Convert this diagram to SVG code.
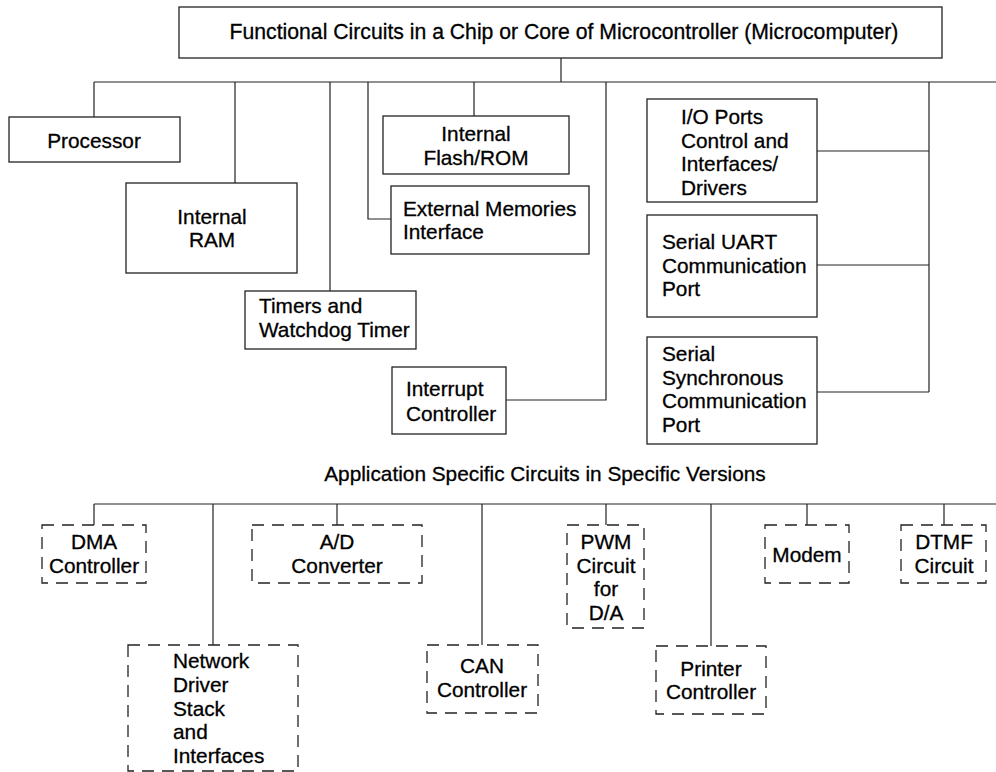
<svg xmlns="http://www.w3.org/2000/svg" width="996" height="772" viewBox="0 0 996 772">
<style>
text{font-family:"Liberation Sans",Arial,sans-serif;font-size:20.8px;fill:#000;stroke:#000;stroke-width:0.3}
.c{text-anchor:middle}
.big{font-size:21.2px}
.box{fill:none;stroke:#222;stroke-width:1.3}
.dbox{fill:none;stroke:#222;stroke-width:1.3;stroke-dasharray:12 8}
.ln{fill:none;stroke:#222;stroke-width:1.2}
</style>
<rect width="996" height="772" fill="#fff"/>
<g id="connectors">
<path class="ln" d="M561,58V82M94,82H996M94,82V117M235,82V183M330,82V291M368,82V219H391M474,82V116M606,82V400H506M929,82V392M817,151H929M817,265H929M817,392H929"/>
<path class="ln" d="M94,504H996M94,504V525M213,504V645M337,504V525M482,504V645M606,504V525M711,504V646M807,504V525M944,504V525"/>
</g>
<g id="top"><rect class="box" x="179" y="7" width="763" height="51"/><text class="c big" x="564" y="39">Functional Circuits in a Chip or Core of Microcontroller (Microcomputer)</text></g>
<g id="processor"><rect class="box" x="9" y="117" width="171" height="45"/><text class="c" x="94" y="148">Processor</text></g>
<g id="ram"><rect class="box" x="126" y="183" width="171" height="90"/><text class="c" x="212" y="224">Internal</text><text class="c" x="212" y="247">RAM</text></g>
<g id="timers"><rect class="box" x="245" y="291" width="171" height="58"/><text x="259" y="313">Timers and</text><text x="259" y="337">Watchdog Timer</text></g>
<g id="flash"><rect class="box" x="383" y="116" width="186" height="58"/><text class="c" x="476" y="141">Internal</text><text class="c" x="476" y="165">Flash/ROM</text></g>
<g id="extmem"><rect class="box" x="391" y="186" width="198" height="68"/><text x="403" y="216">External Memories</text><text x="403" y="239">Interface</text></g>
<g id="interrupt"><rect class="box" x="392" y="367" width="114" height="67"/><text x="406" y="396">Interrupt</text><text x="406" y="421">Controller</text></g>
<g id="io"><rect class="box" x="647" y="99" width="170" height="103"/><text x="681" y="124">I/O Ports</text><text x="681" y="147.5">Control and</text><text x="681" y="171">Interfaces/</text><text x="681" y="194.5">Drivers</text></g>
<g id="uart"><rect class="box" x="647" y="215" width="170" height="102"/><text x="662" y="249">Serial UART</text><text x="662" y="272.5">Communication</text><text x="662" y="296">Port</text></g>
<g id="sync"><rect class="box" x="647" y="337" width="170" height="107"/><text x="662" y="361">Serial</text><text x="662" y="384.5">Synchronous</text><text x="662" y="408">Communication</text><text x="662" y="432">Port</text></g>
<g id="app"><text class="c" x="545" y="481">Application Specific Circuits in Specific Versions</text></g>
<g id="dma"><rect class="dbox" x="42" y="525" width="104" height="58"/><text class="c" x="94" y="549">DMA</text><text class="c" x="94" y="573">Controller</text></g>
<g id="network"><rect class="dbox" x="128" y="645" width="170" height="126"/><text x="173" y="668">Network</text><text x="173" y="692">Driver</text><text x="173" y="716">Stack</text><text x="173" y="739">and</text><text x="173" y="763">Interfaces</text></g>
<g id="ad"><rect class="dbox" x="252" y="525" width="170" height="58"/><text class="c" x="337" y="549">A/D</text><text class="c" x="337" y="573">Converter</text></g>
<g id="can"><rect class="dbox" x="427" y="645" width="111" height="68"/><text class="c" x="482" y="673">CAN</text><text class="c" x="482" y="697">Controller</text></g>
<g id="pwm"><rect class="dbox" x="567" y="525" width="77" height="103"/><text class="c" x="606" y="549">PWM</text><text class="c" x="606" y="573">Circuit</text><text class="c" x="606" y="596">for</text><text class="c" x="606" y="620">D/A</text></g>
<g id="printer"><rect class="dbox" x="656" y="646" width="110" height="68"/><text class="c" x="711" y="676">Printer</text><text class="c" x="711" y="699">Controller</text></g>
<g id="modem"><rect class="dbox" x="765" y="525" width="84" height="58"/><text class="c" x="807" y="562">Modem</text></g>
<g id="dtmf"><rect class="dbox" x="901" y="525" width="85" height="58"/><text class="c" x="944" y="549">DTMF</text><text class="c" x="944" y="573">Circuit</text></g>
</svg>
